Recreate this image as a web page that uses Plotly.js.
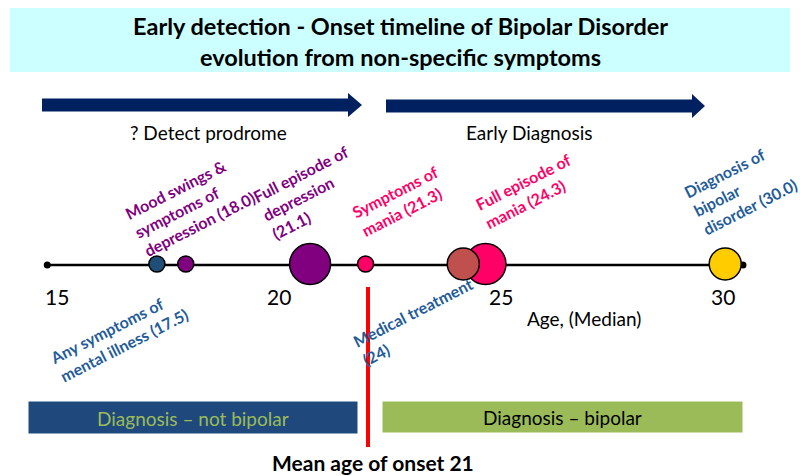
<!DOCTYPE html>
<html>
<head>
<meta charset="utf-8">
<script src="https://cdn.plot.ly/plotly-3.0.1.min.js"></script>
<style>html,body{margin:0;padding:0;background:#fff}#chart{width:800px;height:476px}</style>
</head>
<body>
<div id="chart"></div>
<script>
// ---- data ----
const eventNames = ["Any symptoms of mental illness", "Mood swings & symptoms of depression", "Full episode of depression", "Symptoms of mania", "Full episode of mania", "Medical treatment", "Diagnosis of bipolar disorder"];
const eventAges = [17.25, 17.9, 20.7, 21.95, 24.65, 24.15, 30.05]; // positions as drawn on the timeline
const medianAges = ["17.5", "18.0", "21.1", "21.3", "24.3", "24", "30.0"];
const tickAges = [15, 20, 25, 30];
const tickLabels = ["15", "20", "25", "30"];
const timelineEnds = [14.78, 30.45];
const meanOnset = 21;

// ---- styles ----
const eventColors = ["#1F4E79", "#800080", "#800080", "#FF0066", "#FF0066", "#C0504D", "#FFCC00"];
const eventSizes = [16, 16, 41, 16, 41, 32, 32];
const W = 800, H = 476;
const PXPERYEAR = 44.4, X15 = 57;
const xr = [15 - X15 / PXPERYEAR, 15 + (W - X15) / PXPERYEAR];
const px = v => v / W; // pixel -> paper x
const FONT = "Lato, 'Open Sans', sans-serif";

const traces = [
  { x: timelineEnds, y: [265, 265], type: "scatter", mode: "lines+markers",
    line: { color: "#000", width: 2.5 }, marker: { color: "#000", size: 7 },
    hoverinfo: "skip", showlegend: false },
  { x: eventAges, y: eventAges.map(() => 264), type: "scatter", mode: "markers",
    marker: { color: eventColors, size: eventSizes, opacity: 1, line: { color: "#000", width: 1.5 } },
    text: eventNames, hoverinfo: "text", showlegend: false }
];

function arrow(x0, x1, xt, yc) {
  const s = 6.5, h = 12;
  return "M " + px(x0) + " " + (yc - s) + " L " + px(x1) + " " + (yc - s) + " L " + px(x1) + " " + (yc - h) +
    " L " + px(xt) + " " + yc + " L " + px(x1) + " " + (yc + h) + " L " + px(x1) + " " + (yc + s) +
    " L " + px(x0) + " " + (yc + s) + " Z";
}

const shapes = [
  { type: "rect", xref: "paper", yref: "y", x0: px(10), x1: px(790), y0: 8, y1: 72, fillcolor: "#CCFFFF", line: { width: 0 }, layer: "below" },
  { type: "path", xref: "paper", yref: "y", path: arrow(42, 348, 362, 105), fillcolor: "#002060", line: { width: 0 } },
  { type: "path", xref: "paper", yref: "y", path: arrow(386, 692, 705, 106), fillcolor: "#002060", line: { width: 0 } },
  { type: "line", xref: "paper", yref: "y", x0: px(368), x1: px(368), y0: 287, y1: 447, line: { color: "#FF0000", width: 4 } },
  { type: "rect", xref: "paper", yref: "y", x0: px(28), x1: px(358), y0: 401, y1: 434, fillcolor: "#1F497D", line: { color: "#FFFFFF", width: 1 } },
  { type: "rect", xref: "paper", yref: "y", x0: px(382), x1: px(743), y0: 401, y1: 433, fillcolor: "#9BBB59", line: { color: "#FFFFFF", width: 1 } }
];

function ann(text, x, y, opts) {
  return Object.assign({ text: text, xref: "paper", yref: "y", x: px(x), y: y, showarrow: false,
    xanchor: "center", yanchor: "middle", font: { family: FONT, size: 19, color: "#000" } }, opts || {});
}

const labelBlocks = [
  { t: "Any symptoms of<br>mental illness (" + medianAges[0] + ")", x: 119, y: 336, c: "#1F5C99" },
  { t: "Mood swings &<br>symptoms of<br>depression (" + medianAges[1] + ")", x: 190, y: 205, c: "#800080" },
  { t: "Full episode of<br>depression<br>(" + medianAges[2] + ")", x: 310, y: 192, c: "#800080" },
  { t: "Symptoms of<br>mania (" + medianAges[3] + ")", x: 400, y: 201, c: "#FF0066" },
  { t: "Full episode of<br>mania (" + medianAges[4] + ")", x: 528, y: 191, c: "#FF0066" },
  { t: "Medical treatment<br>(" + medianAges[5] + ")", x: 417, y: 322, c: "#1F5C99" },
  { t: "Diagnosis of<br>bipolar<br>disorder (" + medianAges[6] + ")", x: 740, y: 188, c: "#1F5C99" }
];

const annotations = [
  ann("<b>Early detection - Onset timeline of Bipolar Disorder<br>evolution from non-specific symptoms</b>", 400, 41, { font: { family: FONT, size: 23.5, color: "#000" } }),
  ann("? Detect prodrome", 208, 132),
  ann("Early Diagnosis", 529, 132),
  ann("Age, (Median)", 584, 318),
  ann("Diagnosis – not bipolar", 193, 418, { font: { family: FONT, size: 19, color: "#9BBB59" } }),
  ann("Diagnosis – bipolar", 562, 417),
  ann("<b>Mean age of onset " + meanOnset + "</b>", 373, 462, { font: { family: FONT, size: 21, color: "#000" } })
];
tickAges.forEach((a, i) => annotations.push({ text: tickLabels[i], xref: "x", yref: "y", x: a, y: 296,
  showarrow: false, xanchor: "center", yanchor: "middle", font: { family: FONT, size: 21, color: "#000" } }));
labelBlocks.forEach(b => annotations.push(ann("<b>" + b.t + "</b>", b.x, b.y,
  { textangle: -27, align: "left", font: { family: FONT, size: 16, color: b.c } })));

const layout = {
  width: W, height: H, margin: { l: 0, r: 0, t: 0, b: 0 },
  paper_bgcolor: "#FFFFFF", plot_bgcolor: "rgba(0,0,0,0)",
  xaxis: { range: xr, visible: false, fixedrange: true },
  yaxis: { range: [H, 0], visible: false, fixedrange: true },
  shapes: shapes, annotations: annotations, showlegend: false, hovermode: "closest"
};
Plotly.newPlot("chart", traces, layout, { displayModeBar: false, staticPlot: true });
</script>
</body>
</html>
